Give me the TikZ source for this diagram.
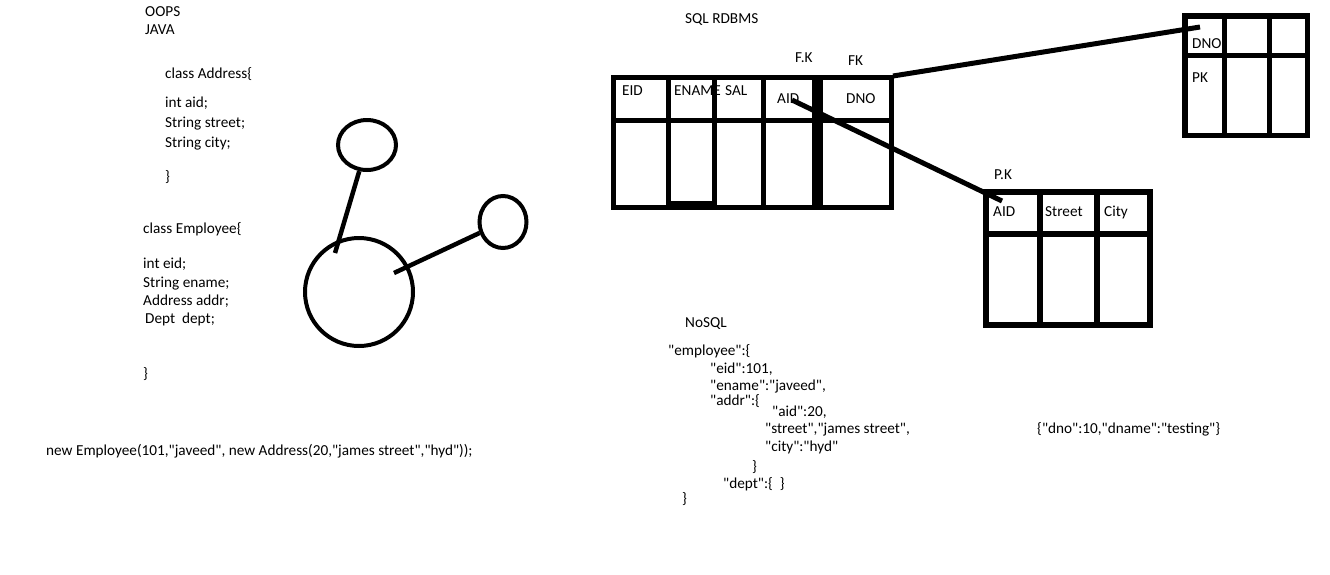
\documentclass[tikz,border=0pt]{standalone}
\usepackage{fontspec}
\setmainfont{Carlito}[Ligatures=TeXOff]
\usetikzlibrary{shapes.geometric, positioning}

\begin{document}
\begin{tikzpicture}[
    x=1pt,
    y=-1pt,
    txt/.style = {
        anchor=base west,
        inner sep=0pt,
        font=\fontsize{15.25}{18}\selectfont
    },
    grid/.style = {
        line width=5pt
    },
    link/.style = {
        line width=5pt
    },
    blob/.style = {
        draw,
        ellipse,
        line width=4pt,
        inner sep=0pt
    }
]
  \useasboundingbox (0,0) rectangle (1330,574);

  \node[txt] (oops) at (145,16) {OOPS};
  \node[txt] (java) at (145,34) {JAVA};
  \node[txt] (ca) at (165,78) {class Address\{};
  \node[txt] (ca1) at (165,107) {int aid;};
  \node[txt] (ca2) at (165,127) {String street;};
  \node[txt] (ca3) at (165,147) {String city;};
  \node[txt] (ca4) at (165,181) {\}};
  \node[txt] (ce) at (143,233) {class Employee\{};
  \node[txt] (ce1) at (143,268) {int eid;};
  \node[txt] (ce2) at (143,287) {String ename;};
  \node[txt] (ce3) at (143,305) {Address addr;};
  \node[txt] (ce4) at (145,323) {Dept\ \ dept;};
  \node[txt] (ce5) at (143,378) {\}};
  \node[txt] (newemp) at (46,455) {new Employee(101,"javeed", new Address(20,"james street","hyd"));};

  \node[blob, minimum width=108pt, minimum height=108pt] (empobj) at (359,292) {};
  \node[blob, minimum width=58pt, minimum height=50pt] (addrobj) at (367,145) {};
  \node[blob, minimum width=47pt, minimum height=52pt] (deptobj) at (503,222) {};
  \coordinate (e1) at (335,253);
  \coordinate (e2) at (394,273);
  \draw[link, line width=4.5pt] (e1) -- (addrobj);
  \draw[link, line width=4.5pt] (e2) -- (deptobj);

  \node[txt] (sql) at (685,23) {SQL RDBMS};
  \node[txt] (fk1) at (795,62) {F.K};
  \node[txt] (fk2) at (848,65) {FK};
  \node[txt] (eid) at (622,95) {EID};
  \node[txt] (ename) at (674,95) {ENAME};
  \node[txt] (sal) at (725,95) {SAL};
  \node[txt] (aid1) at (777,103) {AID};
  \node[txt] (dno1) at (846,103) {DNO};
  \node[txt] (dno2) at (1192,48) {DNO};
  \node[txt] (pk1) at (1192,82) {PK};
  \node[txt] (pk2) at (994,179) {P.K};
  \node[txt] (aid2) at (993,216) {AID};
  \node[txt] (street) at (1045,216) {Street};
  \node[txt] (city) at (1104,216) {City};

  \draw[grid] (613.5,77.5) rectangle (891.5,207);
  \draw[grid] (613.5,120.5) -- (891.5,120.5);
  \foreach \x in {668.5,714.5,763.5}
    \draw[grid] (\x,77.5) -- (\x,207);
  \draw[line width=11pt] (817.5,77.5) -- (817.5,207);
  \fill (669,201) rectangle (713,207);

  \draw[grid, line width=5.5pt] (1185,16) rectangle (1307.5,135.5);
  \draw[grid, line width=5.5pt] (1185,55.5) -- (1307.5,55.5);
  \foreach \x in {1224.5,1269.5}
    \draw[grid, line width=5.5pt] (\x,16) -- (\x,135.5);

  \draw[grid, line width=6pt] (986,191.5) rectangle (1150,324.5);
  \draw[grid, line width=6pt] (986,234) -- (1150,234);
  \foreach \x in {1039.5,1097}
    \draw[grid, line width=6pt] (\x,191.5) -- (\x,324.5);

  \coordinate (fkstart) at (893,76);
  \coordinate (fkend) at (1200,27);
  \coordinate (aidstart) at (792,100);
  \coordinate (aidend) at (1002,201);
  \draw[link] (fkstart) -- (fkend);
  \draw[link] (aidstart) -- (aidend);

  \node[txt] (nosql) at (685,327) {NoSQL};
  \node[txt] (j0) at (668,355) {"employee":\{};
  \node[txt] (j1) at (710,373) {"eid":101,};
  \node[txt] (j2) at (710,390) {"ename":"javeed",};
  \node[txt] (j3) at (710,405) {"addr":\{};
  \node[txt] (j4) at (772,416) {"aid":20,};
  \node[txt] (j5) at (765,433) {"street","james street",};
  \node[txt] (j6) at (765,451) {"city":"hyd"};
  \node[txt] (j7) at (752,471) {\}};
  \node[txt] (j8) at (723,488) {"dept":\{\ \ \}};
  \node[txt] (j9) at (682,503) {\}};
  \node[txt] (deptjson) at (1037,433) {\{"dno":10,"dname":"testing"\}};
\end{tikzpicture}
\end{document}
